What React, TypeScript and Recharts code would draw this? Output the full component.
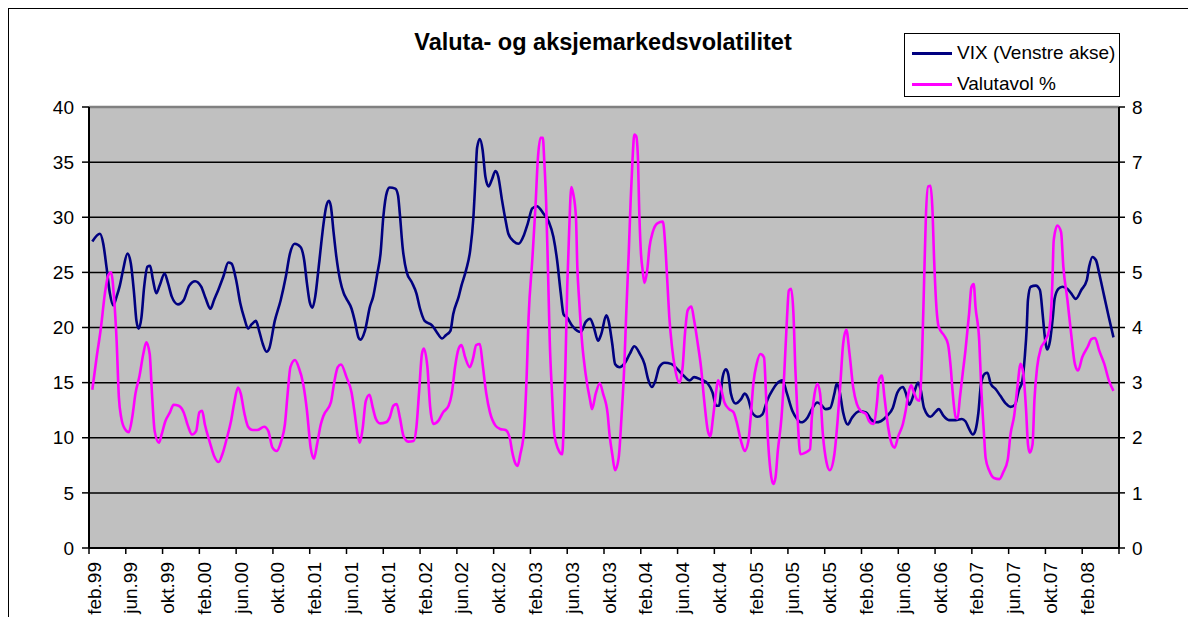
import { LineChart, Line, XAxis, YAxis, CartesianGrid, ReferenceLine } from "recharts";

// months counted from feb.99 (0) — weekly-ish readings
const vixMonths = [
  0.36, 1.19, 1.55, 1.9, 2.27, 2.63, 3.0, 3.35, 3.7, 4.18, 4.55, 4.9, 5.16, 5.4, 5.7, 6.0, 6.35, 6.64, 6.96, 7.32,
  7.68, 8.22, 8.6, 9.0, 9.67, 10.3, 10.9, 11.54, 12.2, 12.7, 13.2, 13.6, 14.1, 14.6, 15.15, 15.5, 16.0, 16.45, 16.9, 17.3,
  17.7, 18.15, 18.5, 18.9, 19.3, 19.6, 20.2, 20.85, 21.4, 21.85, 22.37, 23.0, 23.4, 23.7, 24.0, 24.3, 24.6, 24.9, 25.25, 25.5,
  25.8, 26.1, 26.3, 26.6, 26.9, 27.3, 27.7, 28.0, 28.55, 28.9, 29.3, 29.5, 30.0, 30.55, 30.9, 31.35, 31.7, 32.0, 32.4, 32.7,
  33.3, 33.6, 33.8, 34.1, 34.55, 35.1, 35.6, 36.0, 36.5, 37.3, 37.8, 38.4, 38.8, 39.3, 39.6, 40.2, 40.5, 41.0, 41.45, 41.8,
  42.0, 42.2, 42.5, 42.8, 43.1, 43.45, 43.8, 44.2, 44.5, 44.9, 45.3, 45.6, 46.2, 46.7, 47.3, 47.7, 48.2, 48.7, 49.45, 50.0,
  50.5, 50.9, 51.3, 51.6, 52.0, 52.5, 53.1, 53.5, 54.0, 54.5, 54.9, 55.35, 55.7, 56.25, 56.5, 56.9, 57.2, 57.7, 58.2, 58.8,
  59.3, 59.9, 60.4, 60.8, 61.2, 61.6, 62.0, 62.6, 63.3, 64.0, 64.7, 65.3, 65.8, 66.5, 67.3, 67.8, 68.2, 68.5, 68.9, 69.25,
  69.5, 69.8, 70.3, 70.9, 71.3, 71.7, 72.1, 72.7, 73.2, 73.8, 74.3, 74.8, 75.4, 75.9, 76.5, 77.0, 77.4, 78.1, 78.6, 79.2,
  79.6, 80.1, 80.6, 81.05, 81.3, 81.6, 82.0, 82.5, 82.95, 83.75, 84.5, 85.0, 85.55, 86.1, 86.8, 87.4, 87.9, 88.5, 88.8, 89.2,
  89.5, 89.8, 90.15, 90.45, 90.8, 91.5, 92.0, 92.4, 92.9, 93.5, 94.25, 94.9, 95.3, 95.7, 96.1, 96.4, 96.7, 97.0, 97.4, 97.7,
  98.05, 98.6, 99.1, 99.7, 100.2, 100.7, 101.1, 101.5, 101.75, 101.97, 102.1, 102.4, 102.95, 103.4, 103.7, 103.9, 104.2, 104.5, 104.8, 105.0,
  105.4, 105.85, 106.4, 106.8, 107.3, 107.9, 108.5, 108.75, 109.1, 109.5, 109.85, 110.4, 110.9, 111.4,
];
const vixValues = [
  27.8, 28.5, 27.6, 25.5, 23.1, 22.0, 22.8, 23.8, 25.2, 26.7, 25.8, 23.1, 20.6, 19.9, 20.9, 23.7, 25.5, 25.6, 24.3, 23.1,
  23.8, 24.9, 24.0, 22.8, 22.1, 22.5, 23.8, 24.2, 23.7, 22.6, 21.7, 22.5, 23.5, 24.6, 25.9, 25.8, 24.3, 22.2, 20.8, 19.9,
  20.3, 20.6, 19.7, 18.5, 17.8, 18.1, 20.6, 22.5, 24.6, 26.7, 27.6, 27.3, 26.1, 24.0, 22.3, 21.8, 22.8, 24.9, 27.6, 29.4,
  31.0, 31.5, 31.0, 28.6, 26.4, 24.3, 23.1, 22.6, 21.7, 20.6, 19.1, 18.9, 19.7, 21.9, 22.8, 24.9, 26.7, 30.0, 32.3, 32.7,
  32.6, 32.0, 30.3, 27.3, 25.0, 24.1, 23.1, 21.7, 20.6, 20.2, 19.6, 19.0, 19.3, 19.7, 21.2, 22.8, 23.8, 25.2, 27.0, 30.0,
  33.1, 36.3, 37.1, 36.1, 33.7, 32.8, 33.4, 34.2, 33.7, 31.6, 29.7, 28.5, 27.8, 27.6, 28.4, 29.4, 30.8, 31.0, 30.3, 29.6,
  28.2, 26.1, 23.1, 21.2, 20.9, 20.2, 19.7, 19.6, 20.5, 20.8, 20.0, 18.8, 19.4, 21.1, 20.6, 18.5, 16.7, 16.4, 16.7, 17.6,
  18.3, 17.6, 16.7, 15.3, 14.6, 15.2, 16.4, 16.8, 16.7, 16.2, 15.6, 15.2, 15.5, 15.3, 14.9, 14.1, 12.9, 12.9, 15.5, 16.2,
  15.8, 14.0, 13.1, 13.5, 14.0, 13.5, 12.3, 11.9, 12.1, 13.5, 14.3, 14.9, 15.2, 14.0, 12.4, 11.7, 11.4, 11.8, 12.6, 13.2,
  13.0, 12.6, 12.7, 14.0, 14.9, 14.3, 12.3, 11.2, 11.8, 12.4, 12.3, 11.7, 11.4, 11.5, 12.0, 12.7, 14.1, 14.6, 14.1, 13.0,
  13.5, 14.3, 15.0, 14.3, 12.7, 11.9, 12.3, 12.6, 12.0, 11.6, 11.6, 11.7, 11.5, 10.8, 10.3, 10.7, 12.2, 14.9, 15.8, 15.9,
  14.9, 14.4, 13.8, 13.1, 12.8, 13.0, 14.3, 15.2, 17.3, 20.0, 22.5, 23.7, 23.8, 23.4, 21.2, 19.4, 18.0, 18.8, 20.9, 22.6,
  23.5, 23.7, 23.5, 23.1, 22.6, 23.4, 24.3, 25.5, 26.4, 26.1, 24.9, 22.8, 20.9, 19.1,
];

const volMonths = [
  0.36, 0.83, 1.3, 1.73, 2.1, 2.4, 2.74, 3.0, 3.25, 3.5, 3.9, 4.33, 4.7, 5.05, 5.5, 5.9, 6.24, 6.6, 6.85, 7.14,
  7.6, 7.9, 8.3, 8.8, 9.2, 9.74, 10.3, 10.75, 11.2, 11.65, 12.0, 12.3, 12.6, 13.1, 13.6, 14.1, 14.5, 15.0, 15.44, 15.8,
  16.2, 16.5, 16.9, 17.3, 17.8, 18.3, 19.05, 19.5, 19.95, 20.4, 20.9, 21.3, 21.6, 21.9, 22.4, 22.8, 23.3, 23.7, 24.1, 24.45,
  24.8, 25.2, 25.5, 26.3, 26.7, 27.05, 27.4, 28.0, 28.55, 28.9, 29.2, 29.45, 29.75, 30.1, 30.5, 30.85, 31.2, 31.65, 32.3, 32.7,
  33.1, 33.45, 33.8, 34.2, 34.7, 35.3, 35.6, 35.9, 36.2, 36.4, 36.8, 37.1, 37.45, 38.0, 38.5, 39.1, 39.45, 39.8, 40.2, 40.5,
  40.9, 41.4, 41.75, 42.1, 42.5, 42.8, 43.2, 43.6, 44.2, 44.7, 45.3, 45.75, 46.0, 46.4, 46.6, 46.9, 47.3, 47.6, 47.8, 48.2,
  48.55, 48.8, 49.1, 49.35, 49.5, 49.7, 49.9, 50.1, 50.35, 50.6, 51.0, 51.45, 51.6, 51.8, 52.0, 52.2, 52.45, 52.65, 52.95, 53.1,
  53.3, 53.6, 54.0, 54.5, 54.7, 55.1, 55.55, 55.9, 56.4, 56.6, 56.9, 57.2, 57.6, 57.9, 58.2, 58.4, 58.7, 58.9, 59.1, 59.3,
  59.5, 59.7, 59.8, 60.0, 60.2, 60.4, 60.7, 60.95, 61.3, 61.8, 62.4, 62.65, 62.9, 63.1, 63.4, 63.7, 64.2, 64.55, 64.8, 65.1,
  65.5, 65.8, 66.2, 66.55, 66.9, 67.3, 67.55, 67.9, 68.2, 68.4, 68.7, 69.1, 69.6, 70.1, 70.4, 70.9, 71.3, 71.7, 71.95, 72.25,
  72.6, 73.0, 73.4, 73.6, 73.8, 74.1, 74.4, 74.65, 74.9, 75.3, 75.6, 75.9, 76.1, 76.35, 76.6, 76.8, 77.05, 77.35, 77.9, 78.4,
  78.6, 78.9, 79.2, 79.5, 79.8, 80.2, 80.55, 81.05, 81.4, 81.7, 82.0, 82.35, 82.7, 83.1, 83.5, 83.9, 84.5, 84.8, 85.3, 85.7,
  85.9, 86.2, 86.5, 86.9, 87.3, 87.6, 88.0, 88.5, 88.8, 89.1, 89.4, 89.7, 90.0, 90.3, 90.6, 90.8, 91.0, 91.25, 91.5, 91.7,
  91.9, 92.1, 92.4, 93.0, 93.4, 93.7, 93.9, 94.25, 94.45, 94.7, 95.0, 95.3, 95.7, 95.95, 96.2, 96.4, 96.8, 97.0, 97.3, 97.5,
  97.9, 98.4, 99.0, 99.4, 99.9, 100.2, 100.6, 100.96, 101.3, 101.6, 101.9, 102.1, 102.3, 102.6, 102.8, 103.1, 103.5, 103.9, 104.4, 104.75,
  104.9, 105.3, 105.7, 105.95, 106.4, 106.8, 107.2, 107.55, 108.0, 108.6, 109.0, 109.4, 109.85, 110.4, 110.9, 111.4,
];
const volValues = [
  2.87, 3.46, 4.0, 4.62, 4.95, 5.0, 4.5, 3.77, 2.73, 2.37, 2.16, 2.1, 2.37, 2.8, 3.13, 3.52, 3.73, 3.52, 2.8, 2.12,
  1.91, 2.06, 2.3, 2.46, 2.6, 2.58, 2.46, 2.22, 2.06, 2.12, 2.46, 2.49, 2.24, 1.94, 1.67, 1.56, 1.7, 2.0, 2.3, 2.64,
  2.91, 2.8, 2.44, 2.2, 2.14, 2.14, 2.2, 2.12, 1.82, 1.76, 1.94, 2.24, 2.8, 3.28, 3.41, 3.28, 2.97, 2.49, 1.82, 1.62,
  1.88, 2.24, 2.4, 2.64, 3.04, 3.28, 3.33, 3.1, 2.82, 2.43, 2.06, 1.91, 2.16, 2.67, 2.78, 2.55, 2.34, 2.26, 2.28, 2.37,
  2.58, 2.61, 2.37, 2.03, 1.93, 1.94, 2.19, 2.85, 3.52, 3.62, 3.28, 2.55, 2.25, 2.31, 2.46, 2.58, 2.8, 3.28, 3.62, 3.68,
  3.46, 3.28, 3.43, 3.68, 3.7, 3.34, 2.8, 2.46, 2.22, 2.16, 2.14, 2.0, 1.76, 1.52, 1.49, 1.7, 2.12, 3.16, 4.18, 5.22,
  6.2, 7.04, 7.44, 7.44, 7.04, 6.31, 5.1, 3.76, 2.8, 2.06, 1.8, 1.7, 2.12, 3.28, 4.73, 5.7, 6.55, 6.43, 6.0, 5.1,
  4.49, 3.76, 3.16, 2.67, 2.52, 2.8, 2.99, 2.8, 2.43, 2.06, 1.7, 1.41, 1.64, 2.37, 3.28, 4.18, 5.4, 6.31, 7.04, 7.5,
  7.47, 7.04, 6.31, 5.4, 5.04, 4.81, 5.04, 5.46, 5.73, 5.89, 5.92, 5.52, 4.79, 4.19, 3.64, 3.28, 3.0, 3.28, 3.88, 4.31,
  4.38, 4.13, 3.7, 3.28, 2.67, 2.12, 2.03, 2.43, 2.85, 3.04, 2.91, 2.64, 2.52, 2.46, 2.3, 1.94, 1.76, 1.94, 2.37, 3.0,
  3.34, 3.52, 3.46, 2.85, 2.06, 1.4, 1.16, 1.28, 1.76, 2.37, 3.16, 4.18, 4.67, 4.7, 4.25, 3.28, 2.37, 1.7, 1.73, 1.79,
  2.37, 2.8, 2.98, 2.8, 2.06, 1.55, 1.41, 1.7, 2.31, 2.98, 3.7, 3.96, 3.52, 2.91, 2.61, 2.49, 2.43, 2.31, 2.25, 2.67,
  3.04, 3.13, 2.73, 2.19, 1.88, 1.82, 2.03, 2.25, 2.49, 2.8, 2.95, 2.82, 2.7, 2.67, 3.58, 4.79, 6.01, 6.56, 6.57, 6.19,
  5.22, 4.49, 4.01, 3.85, 3.7, 3.28, 2.85, 2.37, 2.35, 2.73, 3.16, 3.58, 4.25, 4.73, 4.79, 4.37, 3.76, 2.98, 2.12, 1.63,
  1.4, 1.27, 1.25, 1.37, 1.6, 2.06, 2.4, 2.93, 3.34, 3.16, 2.49, 1.88, 1.73, 1.88, 2.67, 3.28, 3.62, 3.74, 3.95, 4.79,
  5.58, 5.85, 5.73, 5.1, 4.49, 3.88, 3.34, 3.22, 3.46, 3.65, 3.79, 3.81, 3.58, 3.34, 3.04, 2.85,
];

const xTicks = [0, 4, 8, 12, 16, 20, 24, 28, 32, 36, 40, 44, 48, 52, 56, 60, 64, 68, 72, 76, 80, 84, 88, 92, 96, 100, 104, 108, 112];
const xTickLabels = [
  "feb.99", "jun.99", "okt.99", "feb.00", "jun.00", "okt.00", "feb.01", "jun.01", "okt.01", "feb.02",
  "jun.02", "okt.02", "feb.03", "jun.03", "okt.03", "feb.04", "jun.04", "okt.04", "feb.05", "jun.05",
  "okt.05", "feb.06", "jun.06", "okt.06", "feb.07", "jun.07", "okt.07", "feb.08", "",
];
const leftTicks = [0, 5, 10, 15, 20, 25, 30, 35, 40];
const rightTicks = [0, 1, 2, 3, 4, 5, 6, 7, 8];

const FONT = '"Liberation Sans", Arial, sans-serif';

const series = [
  { name: "VIX (Venstre akse)", color: "#000080", axis: "left", data: vixMonths.map((t, i) => ({ t, v: vixValues[i] })) },
  { name: "Valutavol %", color: "#FF00FF", axis: "right", data: volMonths.map((t, i) => ({ t, v: volValues[i] })) },
];

function MonthTick(props: any) {
  const { x, y, payload } = props;
  const label = xTickLabels[xTicks.indexOf(payload.value)] ?? "";
  return (
    <text transform={`translate(${x + 11.5},${y}) rotate(-90)`} textAnchor="end" fontSize={19} fontFamily={FONT} fill="#000">
      {label}
    </text>
  );
}

const tickStyle = { fill: "#000", fontSize: 19, fontFamily: FONT };

export default function App() {
  return (
    <div style={{ position: "relative", margin: -8, width: 1192, height: 625, overflow: "hidden", background: "#fff" }}>
      <div style={{ position: "absolute", left: 7, top: 7, width: 1300, height: 800, border: "2px solid #000" }} />
      <div style={{ position: "absolute", left: 303, top: 29, width: 600, textAlign: "center", fontFamily: FONT, fontWeight: "bold", fontSize: 23.5 }}>
        Valuta- og aksjemarkedsvolatilitet
      </div>
      <div style={{ position: "absolute", left: 0, top: 0 }}>
        <LineChart width={1192} height={625} margin={{ top: 107, right: 33, bottom: 17, left: 49 }}>
          <CartesianGrid yAxisId="left" vertical={false} fill="#C0C0C0" stroke="#000" strokeWidth={1.5} />
          <XAxis
            dataKey="t"
            type="number"
            domain={[0, 112]}
            ticks={xTicks}
            interval={0}
            tick={<MonthTick />}
            tickSize={6}
            tickMargin={8}
            height={60}
            axisLine={{ stroke: "#000", strokeWidth: 2 }}
            tickLine={{ stroke: "#000", strokeWidth: 1.5 }}
            allowDataOverflow
          />
          <YAxis
            yAxisId="left"
            domain={[0, 40]}
            ticks={leftTicks}
            width={40}
            tickSize={7}
            tickMargin={8}
            tick={tickStyle}
            axisLine={{ stroke: "#000", strokeWidth: 2 }}
            tickLine={{ stroke: "#000", strokeWidth: 1.5 }}
          />
          <YAxis
            yAxisId="right"
            orientation="right"
            domain={[0, 8]}
            ticks={rightTicks}
            width={40}
            tickSize={6}
            tickMargin={7}
            tick={tickStyle}
            axisLine={{ stroke: "#000", strokeWidth: 2 }}
            tickLine={{ stroke: "#000", strokeWidth: 1.5 }}
          />
          <ReferenceLine yAxisId="left" y={40} stroke="#808080" strokeWidth={2.5} />
          {series.map(s => (
            <Line
              key={s.name}
              data={s.data}
              dataKey="v"
              yAxisId={s.axis}
              type="monotone"
              stroke={s.color}
              strokeWidth={2.6}
              dot={false}
              activeDot={false}
              isAnimationActive={false}
            />
          ))}
        </LineChart>
      </div>
      <div style={{ position: "absolute", left: 904, top: 33, width: 214, height: 62, border: "1px solid #000", background: "#fff", fontFamily: FONT, fontSize: 19 }}>
        {series.map((s, i) => (
          <div key={s.name} style={{ position: "absolute", left: 7, top: 6 + i * 31, height: 26, display: "flex", alignItems: "center", whiteSpace: "nowrap" }}>
            <span style={{ display: "inline-block", width: 40, height: 3, background: s.color, marginRight: 5 }} />
            <span>{s.name}</span>
          </div>
        ))}
      </div>
    </div>
  );
}
